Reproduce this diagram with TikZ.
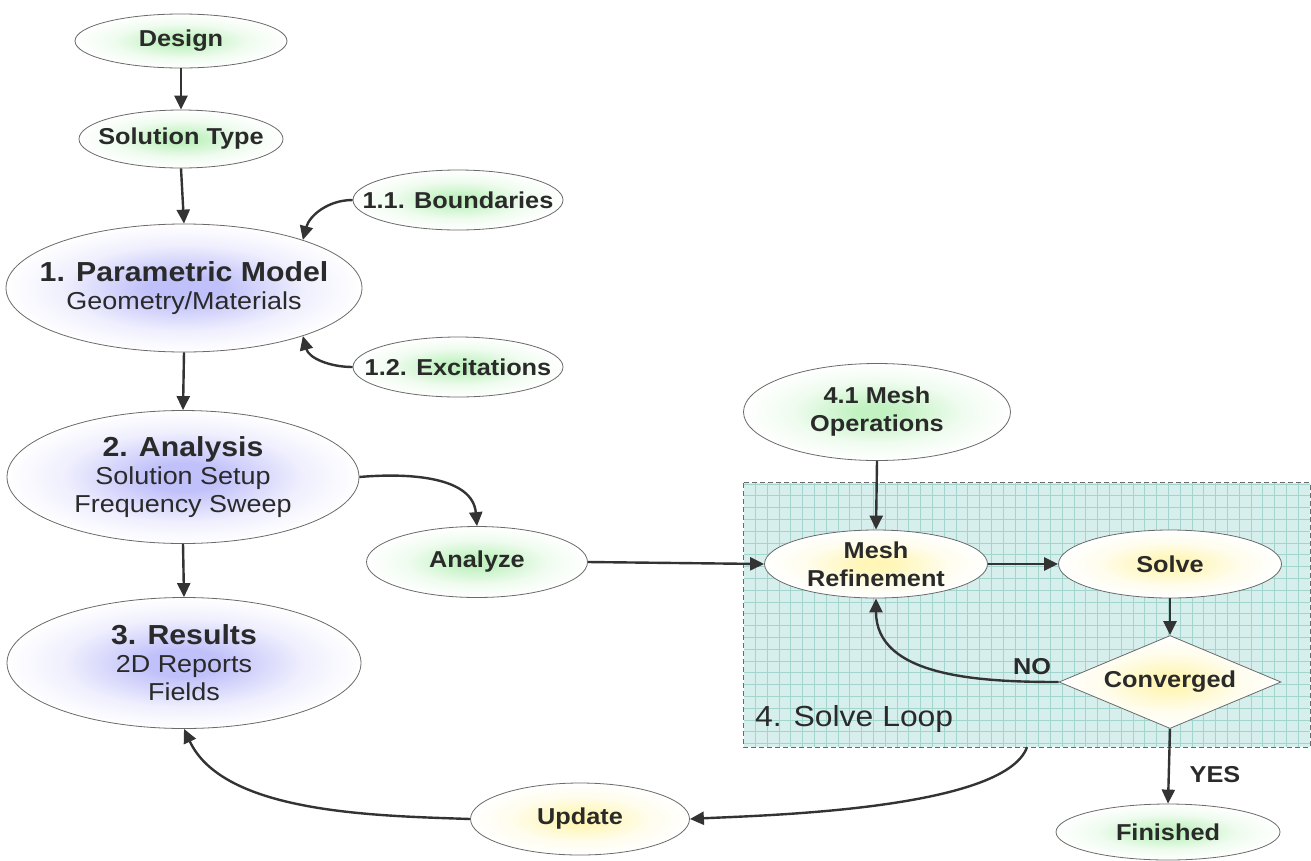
\documentclass[tikz,border=0pt]{standalone}
\usepackage{fontspec}
\setmainfont{Liberation Sans}[FakeStretch=1.1]
\usetikzlibrary{shapes.geometric,arrows.meta}
\definecolor{txt}{HTML}{2A2A2A}
\definecolor{edgec}{HTML}{6A6A6A}
\definecolor{arr}{HTML}{333333}
\definecolor{gridfill}{HTML}{D6EFED}
\definecolor{gridln}{HTML}{A2D5CE}
\definecolor{gc}{HTML}{C2F2C2}
\definecolor{lc}{HTML}{C0C0FA}
\definecolor{yc}{HTML}{FFF6B8}
\pgfdeclareradialshading{gblob}{\pgfpoint{0bp}{0bp}}{color(0bp)=(gc); color(4bp)=(gc); color(16bp)=(gc!25!white); color(25bp)=(white); color(50bp)=(white)}
\pgfdeclareradialshading{lblob}{\pgfpoint{0bp}{0bp}}{color(0bp)=(lc); color(5bp)=(lc); color(17bp)=(lc!25!white); color(25bp)=(white); color(50bp)=(white)}
\pgfdeclareradialshading{yblob}{\pgfpoint{0bp}{0bp}}{color(0bp)=(yc); color(4bp)=(yc); color(16bp)=(yc!25!white); color(25bp)=(white); color(50bp)=(white)}
\newcommand\hdrf{\fontsize{27.5}{28}\selectfont\bfseries}
\tikzset{
 ell/.style={ellipse, draw=edgec, line width=0.8pt, inner sep=0pt, shade},
 gell/.style={ell, shading=gblob},
 lell/.style={ell, shading=lblob},
 yell/.style={ell, shading=yblob},
 lbl/.style={text=txt, align=center, font=\fontsize{23}{28}\selectfont\bfseries, inner sep=0pt},
 big/.style={text=txt, align=center, font=\fontsize{24.5}{28}\selectfont, inner sep=0pt},
 conn/.style={draw=arr, line width=2.4pt, -{Triangle[length=14pt,width=13pt]}},
}
\begin{document}
\begin{tikzpicture}[x=1pt,y=1pt]
\useasboundingbox (0,0) rectangle (1311,-860);
\fill[white] (0,0) rectangle (1311,-860);

% solve loop box
\node[fill=gridfill, minimum width=566pt, minimum height=264pt, inner sep=0pt] (loop) at (1027,-615) {};
\begin{scope}
\clip (loop.north west) rectangle (loop.south east);
\draw[gridln, line width=0.6pt, step=11.8pt] (loop.north west) grid (loop.south east);
\end{scope}
\draw[edgec, line width=0.9pt, dash pattern=on 5pt off 3pt] (loop.north west) rectangle (loop.south east);
\node[anchor=base west, text=txt, font=\fontsize{29}{30}\selectfont, inner sep=0pt] (looplbl) at (755,-726) {4. Solve Loop};

% nodes
\node[gell, minimum width=212pt, minimum height=54pt, label={[lbl]center:Design}] (design) at (181,-41) {};
\node[gell, minimum width=204pt, minimum height=58pt, label={[lbl]center:Solution Type}] (soltype) at (181,-139) {};
\node[gell, minimum width=210pt, minimum height=60pt, label={[lbl]center:1.1. Boundaries}] (bound) at (458,-200) {};
\node[lell, minimum width=356pt, minimum height=128pt, label={[big]center:{{\hdrf 1. Parametric Model}\\Geometry/Materials}}] (pm) at (184,-288) {};
\node[gell, minimum width=210pt, minimum height=60pt, label={[lbl]center:1.2. Excitations}] (excit) at (458,-367) {};
\node[lell, minimum width=352pt, minimum height=133pt, label={[big]center:{{\hdrf 2. Analysis}\\Solution Setup\\Frequency Sweep}}] (ana) at (183,-477) {};
\node[gell, minimum width=221pt, minimum height=71pt, label={[lbl]center:Analyze}] (analyze) at (477,-562) {};
\node[lell, minimum width=354pt, minimum height=131pt, label={[big]center:{{\hdrf 3. Results}\\2D Reports\\Fields}}] (res) at (184,-663) {};
\node[yell, minimum width=219pt, minimum height=72pt, label={[lbl]center:Update}] (update) at (580,-819) {};
\node[gell, minimum width=267pt, minimum height=97pt, label={[lbl]center:{4.1 Mesh\\Operations}}] (meshop) at (877,-412) {};
\node[yell, minimum width=223pt, minimum height=68pt, label={[lbl]center:{Mesh\\Refinement}}] (meshref) at (876,-564) {};
\node[yell, minimum width=223pt, minimum height=68pt, label={[lbl]center:Solve}] (solve) at (1170,-564) {};
\node[diamond, draw=edgec, line width=0.8pt, shade, shading=yblob, minimum width=222pt, minimum height=93pt, inner sep=0pt, label={[lbl]center:Converged}] (conv) at (1170,-682) {};
\node[gell, minimum width=224pt, minimum height=56pt, label={[lbl]center:Finished}] (fin) at (1168,-832) {};

\node[lbl] (nolbl) at (1032,-667) {NO};
\node[lbl] (yeslbl) at (1215,-775) {YES};

% connectors
\draw[conn] (design.south) -- (soltype.north);
\draw[conn] (soltype.south) -- (pm.north);
\draw[conn] (bound.west) to[out=180, in=75] (pm.22);
\draw[conn] (excit.west) to[out=180, in=-75] (pm.-22);
\draw[conn] (pm.south) -- (ana.north);
\draw[conn] (ana.east) to[out=5, in=95] (analyze.north);
\draw[conn] (ana.south) -- (res.north);
\draw[conn] (analyze.east) -- (meshref.west);
\draw[conn] (meshop.south) -- (meshref.north);
\draw[conn] (meshref.east) -- (solve.west);
\draw[conn] (solve.south) -- (conv.north);
\draw[conn] (conv.west) to[out=180, in=-90] (meshref.south);
\draw[conn] (conv.south) -- (fin.north);
\draw[conn] (loop.south) to[out=-110, in=3, looseness=0.5] (update.east);
\draw[conn] (update.west) to[out=178, in=-65, looseness=0.8] (res.south);
\end{tikzpicture}
\end{document}
